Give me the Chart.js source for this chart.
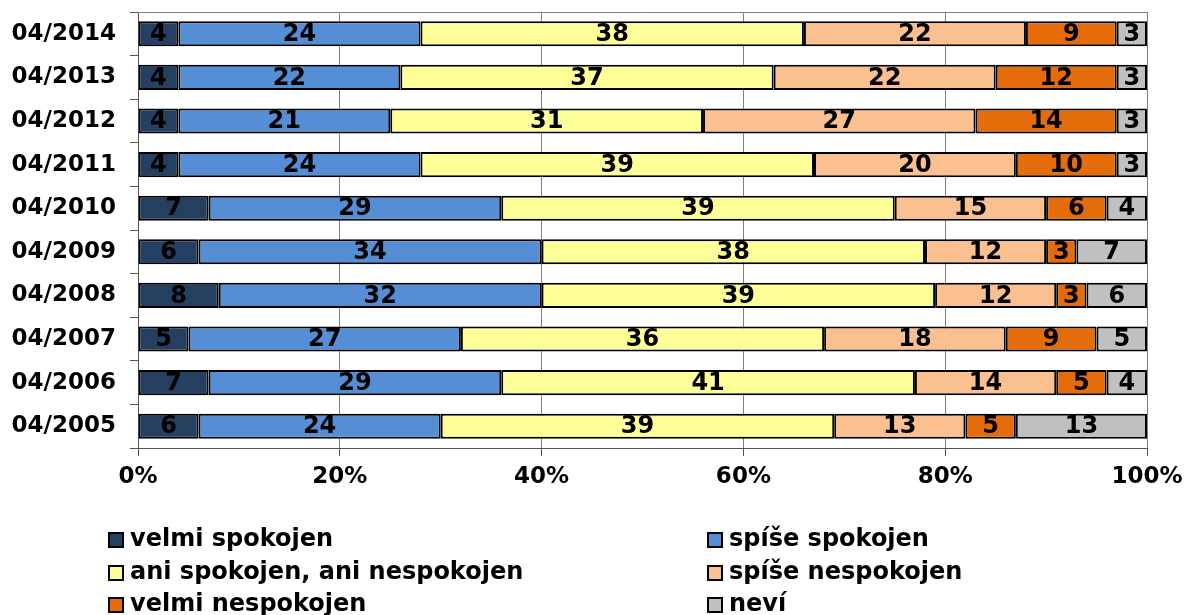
<!DOCTYPE html>
<html>
<head>
<meta charset="utf-8">
<script src="https://cdn.jsdelivr.net/npm/chart.js@4"></script>
<style>
html,body{margin:0;padding:0;background:#fff;}
canvas{display:block;}
</style>
</head>
<body>
<canvas id="c" width="1189" height="615"></canvas>
<script>
const categories = ["04/2014","04/2013","04/2012","04/2011","04/2010","04/2009","04/2008","04/2007","04/2006","04/2005"];
const seriesNames = ["velmi spokojen","spíše spokojen","ani spokojen, ani nespokojen","spíše nespokojen","velmi nespokojen","neví"];
const velmiSpokojen    = [4, 4, 4, 4, 7, 6, 8, 5, 7, 6];
const spiseSpokojen    = [24,22,21,24,29,34,32,27,29,24];
const ani              = [38,37,31,39,39,38,39,36,41,39];
const spiseNespokojen  = [22,22,27,20,15,12,12,18,14,13];
const velmiNespokojen  = [9, 12,14,10,6, 3, 3, 9, 5, 5];
const nevi             = [3, 3, 3, 3, 4, 7, 6, 5, 4, 13];
const xTicks = [0,20,40,60,80,100];
const colors = ["#253F60","#558ED5","#FFFF99","#FAC090","#E46C0A","#C0C0C0"];

const seriesValues = [velmiSpokojen, spiseSpokojen, ani, spiseNespokojen, velmiNespokojen, nevi];
const FONT = "'DejaVu Sans', Verdana, sans-serif";

const framePlugin = {
  id: 'frame',
  beforeDatasetsDraw(chart) {
    const {ctx, chartArea: a} = chart;
    ctx.save();
    ctx.strokeStyle = '#808080';
    ctx.lineWidth = 1;
    ctx.beginPath();
    ctx.moveTo(a.left, a.top + 0.5);
    ctx.lineTo(a.right + 0.5, a.top + 0.5);
    ctx.lineTo(a.right + 0.5, a.bottom);
    ctx.stroke();
    ctx.restore();
  }
};

const labelPlugin = {
  id: 'vals',
  afterDatasetsDraw(chart) {
    const ctx = chart.ctx;
    ctx.save();
    ctx.font = "bold 24px " + FONT;
    ctx.fillStyle = '#000';
    ctx.textAlign = 'center';
    ctx.textBaseline = 'middle';
    chart.data.datasets.forEach((ds, di) => {
      const meta = chart.getDatasetMeta(di);
      meta.data.forEach((bar, i) => {
        const cx = (bar.x + bar.base) / 2;
        ctx.fillText(String(ds.data[i]), cx, bar.y + 1);
      });
    });
    ctx.restore();
  }
};

const legendPlugin = {
  id: 'customLegend',
  afterDraw(chart) {
    const ctx = chart.ctx;
    ctx.save();
    ctx.font = "bold 24px " + FONT;
    ctx.textBaseline = 'middle';
    ctx.textAlign = 'left';
    const colX = [109, 708];
    const rowY = [540, 573, 605];
    chart.data.datasets.forEach((ds, i) => {
      const x = colX[i % 2];
      const y = rowY[Math.floor(i / 2)];
      ctx.fillStyle = ds.backgroundColor;
      ctx.fillRect(x, y - 7, 14, 14);
      ctx.strokeStyle = '#000';
      ctx.lineWidth = 2;
      ctx.strokeRect(x, y - 7, 14, 14);
      ctx.fillStyle = '#000';
      ctx.fillText(ds.label, x + 21, y);
    });
    ctx.restore();
  }
};

new Chart(document.getElementById('c'), {
  type: 'bar',
  data: {
    labels: categories,
    datasets: seriesNames.map((n, i) => ({
      label: n,
      data: seriesValues[i],
      backgroundColor: colors[i],
      borderColor: '#000',
      borderWidth: 2,
      borderSkipped: false,
      barPercentage: 0.575,
      categoryPercentage: 1.0
    }))
  },
  options: {
    indexAxis: 'y',
    responsive: false,
    animation: false,
    layout: { padding: { top: 12, right: 42, left: 0, bottom: 0 } },
    plugins: { legend: { display: false }, tooltip: { enabled: false } },
    scales: {
      x: {
        stacked: true,
        min: 0, max: 100,
        afterBuildTicks(scale) { scale.ticks = xTicks.map(v => ({value: v})); },
        afterFit(scale) { scale.height = 167; scale.paddingLeft = 0; scale.paddingRight = 0; },
        ticks: {
          callback: v => v + '%',
          color: '#000',
          font: { family: FONT, size: 23, weight: 'bold' },
          padding: 7,
          maxRotation: 0
        },
        grid: { color: '#808080', lineWidth: 1, tickLength: 8, tickColor: '#555' },
        border: { color: '#555', width: 1 }
      },
      y: {
        stacked: true,
        afterFit(scale) { scale.width = 138; scale.paddingTop = 0; scale.paddingBottom = 0; },
        ticks: {
          color: '#000',
          font: { family: FONT, size: 23, weight: 'bold' },
          padding: 14
        },
        grid: { drawOnChartArea: false, offset: true, tickLength: 8, color: '#555' },
        border: { color: '#555', width: 1 }
      }
    }
  },
  plugins: [framePlugin, labelPlugin, legendPlugin]
});
</script>
</body>
</html>
